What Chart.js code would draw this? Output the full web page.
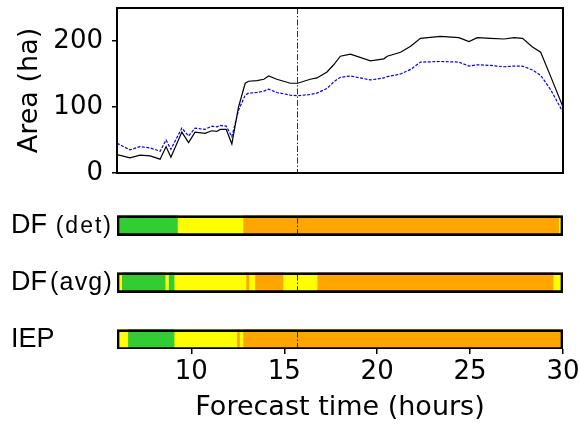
<!DOCTYPE html>
<html>
<head>
<meta charset="utf-8">
<script src="https://cdn.jsdelivr.net/npm/chart.js@4.4.1/dist/chart.umd.min.js"></script>
<style>
    html, body { margin: 0; padding: 0; background: #fff; }
    #wrap { position: relative; width: 580px; height: 425px; }
    #areaChart { position: absolute; left: 0; top: 0; }
    #classChart { position: absolute; left: 0; top: 190px; }
</style>
</head>
<body>
<div id="wrap">
    <canvas id="areaChart" width="580" height="190"></canvas>
    <canvas id="classChart" width="580" height="235"></canvas>
</div>
<script>
// burned area
var hours = [6.0, 6.7, 7.24, 7.78, 8.32, 8.64, 8.9, 9.49, 9.85, 10.2, 10.74, 11.1, 11.37, 11.55, 11.88,
    12.18, 12.54, 12.9, 13.08, 13.53, 13.9, 14.16, 14.6, 15.33, 15.72, 16.4, 16.76, 17.3, 17.66, 18.02,
    18.56, 19.64, 20.36, 20.54, 21.26, 21.8, 22.33, 23.41, 24.4, 24.94, 25.39, 26.1, 26.83, 27.37, 27.82,
    28.36, 28.8, 29.34, 30.0];
var areaDet = [28, 23, 27, 26, 21, 40, 24, 62, 46, 62, 60, 64, 63, 66, 66,
    44, 100, 136, 139, 140, 142, 147, 142, 136, 136, 142, 144, 153, 164, 177,
    180, 170, 173, 177, 183, 192, 204, 207, 205, 199, 205, 204, 203, 205, 204,
    191, 183, 146, 100];
var areaAvg = [45, 35, 40, 38, 33, 50, 36, 68, 56, 68, 66, 71, 70, 72, 71,
    55, 95, 118, 121, 122, 124, 127, 122, 118, 117, 119, 121, 128, 138, 145,
    147, 141, 144, 146, 150, 157, 168, 169, 168, 162, 164, 163, 161, 162, 162,
    156, 148, 126, 92];

var cutHour = 15.7;
var xTicks = [10, 15, 20, 25, 30];
var yTicks = [0, 100, 200];

// danger class bars: edges (hours) and class of each piece
var rowNames = ['DF', 'DF', 'IEP'];
var rowTags = ['(det)', '(avg)', ''];
var detEdges = [6, 9.25, 12.78, 29.77, 30];
var detClasses = ['green', 'yellow', 'orange', 'yellow'];
var avgEdges = [6, 6.25, 8.59, 8.77, 9.07, 12.94, 13.1, 13.42, 14.93, 16.77, 29.47, 30];
var avgClasses = ['yellow', 'green', 'yellow', 'green', 'yellow', 'orange', 'yellow', 'orange', 'yellow', 'orange', 'yellow'];
var iepEdges = [6, 6.58, 9.07, 12.45, 12.59, 12.78, 30];
var iepClasses = ['yellow', 'green', 'yellow', 'orange', 'yellow', 'orange'];

var classColors = { green: '#32cd32', yellow: '#ffff00', orange: '#ffa500' };

Chart.defaults.font.family = "'DejaVu Sans'";
Chart.defaults.color = '#000';

function cutLine(ctx, x, y0, y1) {
    ctx.save();
    ctx.strokeStyle = '#333';
    ctx.lineWidth = 1;
    ctx.setLineDash([6, 2, 1.5, 2]);
    ctx.beginPath();
    ctx.moveTo(x, y0);
    ctx.lineTo(x, y1);
    ctx.stroke();
    ctx.restore();
}

var areaPlugin = {
    id: 'areaBox',
    afterDatasetsDraw: function(chart) {
        var a = chart.chartArea, ctx = chart.ctx;
        cutLine(ctx, Math.round(chart.scales.x.getPixelForValue(cutHour)) + 0.5, a.top, a.bottom);
        ctx.save();
        ctx.strokeStyle = '#000';
        ctx.lineWidth = 2;
        ctx.strokeRect(a.left, a.top, a.right - a.left, a.bottom - a.top);
        ctx.restore();
    }
};

new Chart(document.getElementById('areaChart'), {
    type: 'line',
    data: {
        datasets: [{
            data: hours.map(function(h, i) { return { x: h, y: areaDet[i] }; }),
            borderColor: '#000',
            borderWidth: 1.2,
            pointRadius: 0,
            tension: 0
        }, {
            data: hours.map(function(h, i) { return { x: h, y: areaAvg[i] }; }),
            borderColor: '#0000ff',
            borderWidth: 1.2,
            borderDash: [3, 1.5],
            pointRadius: 0,
            tension: 0
        }]
    },
    options: {
        responsive: false,
        animation: false,
        layout: { padding: { left: 0, right: 17, top: 8, bottom: 17 } },
        plugins: { legend: { display: false }, tooltip: { enabled: false } },
        scales: {
            x: { type: 'linear', min: 6, max: 30, display: false },
            y: {
                min: 0,
                max: 250,
                afterBuildTicks: function(s) { s.ticks = yTicks.map(function(v) { return { value: v }; }); },
                afterFit: function(s) { s.width = 117; s.paddingTop = 0; s.paddingBottom = 0; },
                border: { display: false },
                grid: { drawOnChartArea: false, drawTicks: true, tickLength: 5, color: '#000', lineWidth: 1.5 },
                ticks: { font: { size: 26 }, padding: 9 },
                title: { display: true, text: 'Area (ha)', font: { size: 27 }, padding: { top: 14, bottom: 0 } }
            }
        }
    },
    plugins: [areaPlugin]
});

// one dataset per coloured piece, plus the black outline of each row
var rowEdges = [detEdges, avgEdges, iepEdges];
var rowClasses = [detClasses, avgClasses, iepClasses];
var rowPos = function(r) { return rowNames.length - 1 - r; };

var classSets = [{
    data: rowNames.map(function(n, r) { return { y: rowPos(r), x: [6, 30] }; }),
    backgroundColor: 'rgba(0,0,0,0)',
    borderColor: '#000',
    borderWidth: 2,
    borderSkipped: false,
    barThickness: 20,
    grouped: false,
    order: 0
}];
rowEdges.forEach(function(edges, r) {
    rowClasses[r].forEach(function(c, i) {
        classSets.push({
            data: [{ y: rowPos(r), x: [edges[i], edges[i + 1]] }],
            backgroundColor: classColors[c],
            borderWidth: 0,
            barThickness: 20,
            grouped: false,
            order: 1
        });
    });
});

var rowPlugin = {
    id: 'rowLabels',
    afterDatasetsDraw: function(chart) {
        var ctx = chart.ctx;
        var x = Math.round(chart.scales.x.getPixelForValue(cutHour)) + 0.5;
        chart.getDatasetMeta(0).data.forEach(function(el, r) {
            var top = el.y - el.height / 2, bottom = el.y + el.height / 2;
            cutLine(ctx, x, top + 2, bottom - 2);
            ctx.save();
            ctx.fillStyle = '#000';
            ctx.textBaseline = 'alphabetic';
            ctx.textAlign = 'left';
            ctx.font = "27px 'Liberation Sans'";
            ctx.fillText(rowNames[r], 11, bottom - 2.5);
            if (rowTags[r]) {
                ctx.textAlign = 'right';
                ctx.font = (r === 0 ? 23 : 25) + "px 'Liberation Sans'";
                ctx.letterSpacing = r === 0 ? '2px' : '1.2px';
                ctx.fillText(rowTags[r], 113, bottom - 2.5);
            }
            ctx.restore();
        });
    }
};

new Chart(document.getElementById('classChart'), {
    type: 'bar',
    data: { datasets: classSets },
    options: {
        indexAxis: 'y',
        responsive: false,
        animation: false,
        layout: { padding: { left: 117, right: 17, top: 10, bottom: 0 } },
        plugins: { legend: { display: false }, tooltip: { enabled: false } },
        scales: {
            x: {
                type: 'linear',
                min: 6,
                max: 30,
                position: 'bottom',
                afterBuildTicks: function(s) { s.ticks = xTicks.map(function(v) { return { value: v }; }); },
                afterFit: function(s) { s.height = 76; s.paddingLeft = 0; s.paddingRight = 0; },
                border: { display: false },
                grid: { drawOnChartArea: false, drawTicks: true, tickLength: 5, color: '#000', lineWidth: 1.5 },
                ticks: { font: { size: 26 }, padding: 3, maxRotation: 0, autoSkip: false },
                title: { display: true, text: 'Forecast time (hours)', font: { size: 27 }, padding: { top: 0, bottom: 1 } }
            },
            y: { type: 'linear', min: -0.166, max: 2.45, display: false, offset: false }
        }
    },
    plugins: [rowPlugin]
});
</script>
</body>
</html>
